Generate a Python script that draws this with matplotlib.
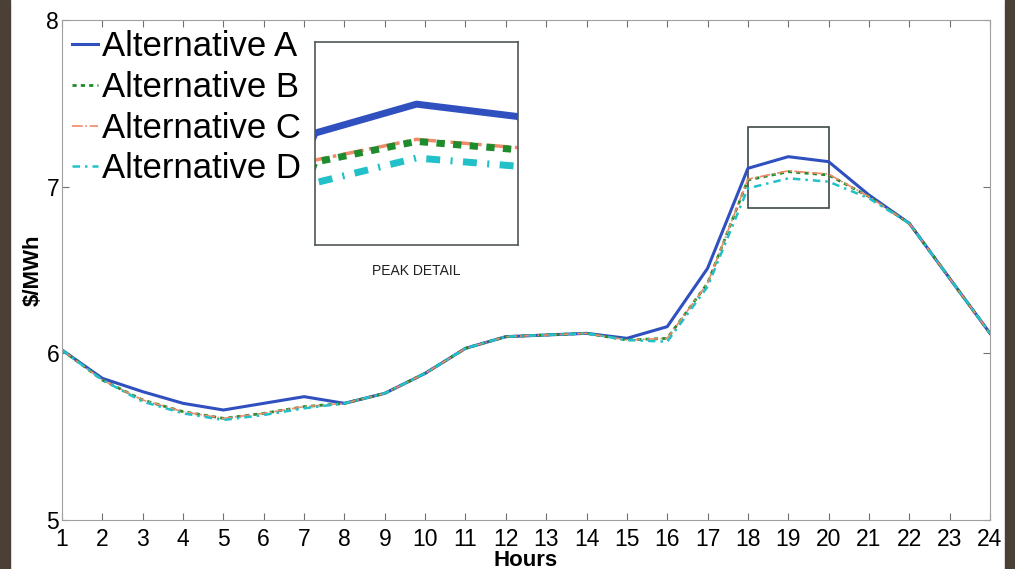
import numpy as np
import matplotlib
matplotlib.use('Agg')
import matplotlib.pyplot as plt
from matplotlib.patches import Rectangle

plt.rcParams['font.family'] = ['Liberation Sans', 'DejaVu Sans']

hours = list(range(1, 25))

alt_a = [6.02, 5.85, 5.77, 5.70, 5.66, 5.70, 5.74, 5.70, 5.76, 5.88, 6.03, 6.10,
         6.11, 6.12, 6.09, 6.16, 6.51, 7.11, 7.18, 7.15, 6.95, 6.78, 6.45, 6.12]
alt_b = [6.02, 5.84, 5.72, 5.65, 5.61, 5.64, 5.68, 5.70, 5.76, 5.88, 6.03, 6.10,
         6.11, 6.12, 6.08, 6.09, 6.42, 7.04, 7.09, 7.07, 6.94, 6.78, 6.45, 6.12]
alt_c = [6.02, 5.84, 5.72, 5.65, 5.61, 5.64, 5.68, 5.70, 5.76, 5.88, 6.03, 6.10,
         6.11, 6.12, 6.08, 6.09, 6.42, 7.045, 7.095, 7.075, 6.94, 6.78, 6.45, 6.12]
alt_d = [6.02, 5.84, 5.71, 5.64, 5.60, 5.63, 5.67, 5.70, 5.76, 5.88, 6.03, 6.10,
         6.11, 6.12, 6.08, 6.07, 6.40, 6.99, 7.05, 7.03, 6.93, 6.78, 6.45, 6.12]

labels = ['Alternative A', 'Alternative B', 'Alternative C', 'Alternative D']

col_a = '#3050c0'
col_b = '#1e8c2c'
col_c = '#f08a6a'
col_d = '#22c0c8'
grey = '#707070'

fig = plt.figure(figsize=(10.15, 5.69), dpi=100)
fig.patch.set_facecolor('white')

# dark strips on the sides
fig.patches.append(Rectangle((0, 0), 10/1015, 1, transform=fig.transFigure,
                             color='#4a4035', zorder=-1))
fig.patches.append(Rectangle((1005/1015, 0), 10/1015, 1, transform=fig.transFigure,
                             color='#4a4035', zorder=-1))

ax = fig.add_axes([62/1015, 1-520/569, 928/1015, 500/569])
ax.plot(hours, alt_a, color=col_a, lw=2.2, ls='-', label=labels[0])
ax.plot(hours, alt_b, color=col_b, lw=2, ls=(0, (1.5, 1.5)), label=labels[1])
ax.plot(hours, alt_c, color=col_c, lw=1.2, ls='-.', label=labels[2])
ax.plot(hours, alt_d, color=col_d, lw=1.8, ls=(0, (3, 2, 1, 2)), label=labels[3])

ax.set_xlim(1, 24)
ax.set_ylim(5, 8)
ax.set_xticks(hours)
ax.set_yticks([5, 6, 7, 8])
ax.tick_params(direction='in', length=5, color=grey, labelsize=16.5,
               top=True, right=True)
ax.tick_params(axis='x', pad=6)
ax.tick_params(axis='y', pad=2)
for s in ax.spines.values():
    s.set_color('#a0a0a0')
ax.set_xlabel('Hours', fontsize=16, fontweight='bold', labelpad=-1)
ax.set_ylabel('$/MWh', fontsize=16, fontweight='bold', labelpad=2)

leg = ax.legend(loc='upper left', frameon=False, fontsize=25, handlelength=0.75,
                handletextpad=0.1, labelspacing=0.22, borderaxespad=0.0,
                bbox_to_anchor=(-0.004, 1.007))

# box marking the peak region
ax.add_patch(Rectangle((18, 6.87), 2, 0.49, fill=False, ec='#404848', lw=1.2))

# inset with peak detail
ins = fig.add_axes([315/1015, 1-245/569, 203/1015, 203/569])
ins.plot(hours, alt_a, color=col_a, lw=5, ls='-')
ins.plot(hours, alt_c, color=col_c, lw=2.5, ls='-.')
ins.plot(hours, alt_b, color=col_b, lw=5, ls=(0, (1.2, 1.2)))
ins.plot(hours, alt_d, color=col_d, lw=5, ls=(0, (2, 1.5, 0.3, 1.5)))
ins.set_xlim(18, 20)
ins.set_ylim(6.84, 7.33)
ins.set_xticks([])
ins.set_yticks([])
for s in ins.spines.values():
    s.set_color('#505858')
    s.set_linewidth(1.2)
ins.set_xlabel('PEAK DETAIL', fontsize=10, labelpad=14, color='#202020')

plt.savefig('out.png', dpi=100, facecolor=fig.get_facecolor())
